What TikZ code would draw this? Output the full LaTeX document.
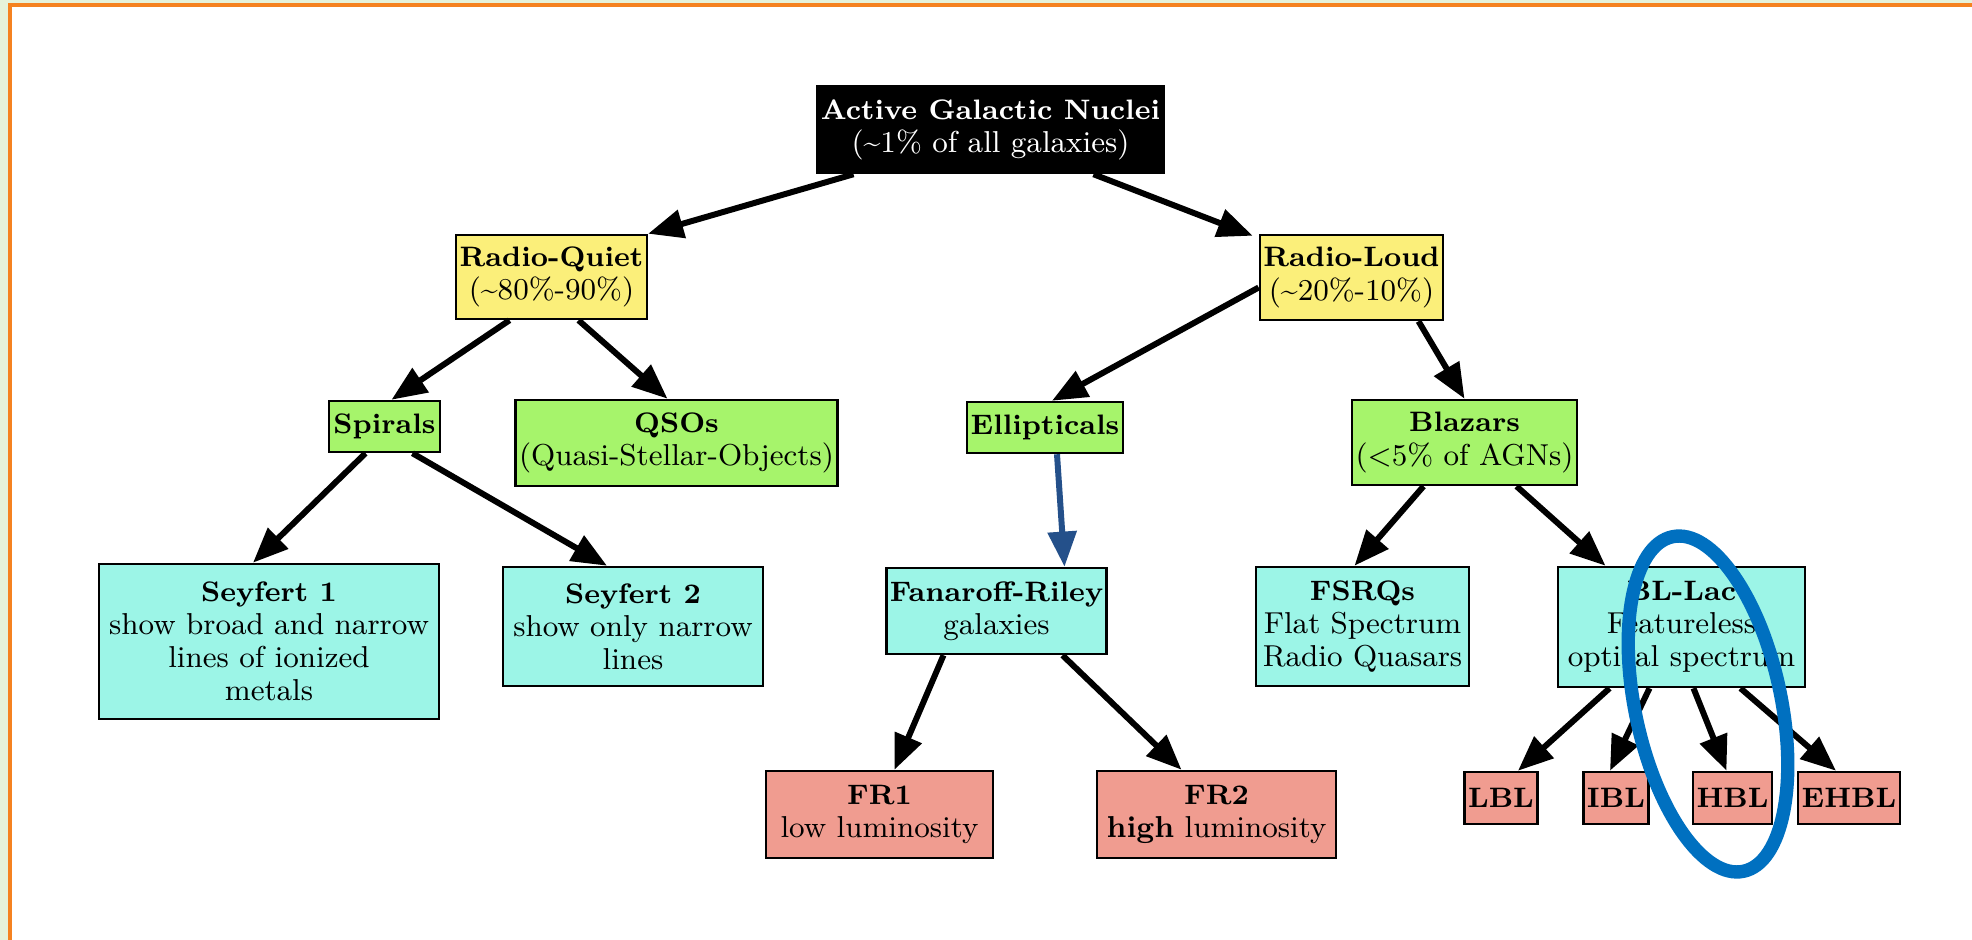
\documentclass[tikz,border=0pt]{standalone}
\usepackage{tikz}
\usetikzlibrary{arrows.meta,positioning,calc}
\definecolor{agnYellow}{HTML}{FBEF7A}
\definecolor{agnGreen}{HTML}{A6F46B}
\definecolor{agnCyan}{HTML}{9CF5E7}
\definecolor{agnSalmon}{HTML}{F09C90}
\definecolor{agnNavy}{HTML}{24508A}
\definecolor{agnRing}{HTML}{0070C0}
\definecolor{agnFrame}{HTML}{F58220}
\definecolor{agnMint}{HTML}{E6F2DA}
\newcommand{\agnhead}[1]{{\fontsize{8}{9.4}\selectfont\bfseries #1}}

\begin{document}
\begin{tikzpicture}[x=0.01cm,y=-0.01cm,font=\fontsize{8.6}{9.4}\selectfont,
    box/.style={draw=black,line width=0.7pt,align=center,inner sep=1pt},
    arr/.style={line width=1.7pt,-{Triangle[length=10pt,width=8pt]}}]
  \useasboundingbox (0,0) rectangle (1972,940);
  % frame
  \fill[agnMint] (0,0) rectangle (1972,940);
  \fill[white] (10,5) rectangle (1990,960);
  \draw[agnFrame,line width=0.9pt] (10,960) -- (10,5) -- (1990,5);

  \node[box,fill=black,text=white,minimum width=3.25cm,minimum height=0.87cm] (agn) at (990.5,129.5)
    {\agnhead{Active Galactic Nuclei}\\(\textasciitilde1\% of all galaxies)};
  \node[box,fill=agnYellow,minimum width=1.87cm,minimum height=0.84cm] (quiet) at (551.5,277)
    {\agnhead{Radio-Quiet}\\(\textasciitilde80\%-90\%)};
  \node[box,fill=agnYellow,minimum width=1.81cm,minimum height=0.85cm] (loud) at (1351.5,277.5)
    {\agnhead{Radio-Loud}\\(\textasciitilde20\%-10\%)};

  \node[box,fill=agnGreen,minimum width=1.11cm,minimum height=0.51cm] (spirals) at (384.5,426.5)
    {\agnhead{Spirals}};
  \node[box,fill=agnGreen,minimum width=3.19cm,minimum height=0.86cm] (qso) at (676.5,443)
    {\agnhead{QSOs}\\(Quasi-Stellar-Objects)};
  \node[box,fill=agnGreen,minimum width=1.54cm,minimum height=0.51cm] (ellip) at (1045,427.5)
    {\agnhead{Ellipticals}};
  \node[box,fill=agnGreen,minimum width=2.21cm,minimum height=0.85cm] (blazars) at (1464.5,442.5)
    {\agnhead{Blazars}\\(<5\% of AGNs)};

  \node[box,fill=agnCyan,minimum width=3.40cm,minimum height=1.55cm] (sey1) at (269,641.5)
    {\agnhead{Seyfert 1}\\show broad and narrow\\lines of ionized\\metals};
  \node[box,fill=agnCyan,minimum width=2.60cm,minimum height=1.19cm] (sey2) at (633,626.5)
    {\agnhead{Seyfert 2}\\show only narrow\\lines};
  \node[box,fill=agnCyan,minimum width=2.17cm,minimum height=0.86cm] (fr) at (996.5,611)
    {\agnhead{Fanaroff-Riley}\\galaxies};
  \node[box,fill=agnCyan,minimum width=2.13cm,minimum height=1.19cm] (fsrq) at (1362.5,626.5)
    {\agnhead{FSRQs}\\Flat Spectrum\\Radio Quasars};
  \node[box,fill=agnCyan,minimum width=2.47cm,minimum height=1.20cm] (bllac) at (1681.5,627)
    {\agnhead{BL-Lac}\\Featureless\\optical spectrum};

  \node[box,fill=agnSalmon,minimum width=2.27cm,minimum height=0.87cm] (fr1) at (879.5,814.5)
    {\agnhead{FR1}\\low luminosity};
  \node[box,fill=agnSalmon,minimum width=2.39cm,minimum height=0.87cm] (fr2) at (1216.5,814.5)
    {\agnhead{FR2}\\\textbf{high} luminosity};
  \node[box,fill=agnSalmon,minimum width=0.70cm,minimum height=0.52cm] (lbl) at (1501,798) {\agnhead{LBL}};
  \node[box,fill=agnSalmon,minimum width=0.64cm,minimum height=0.52cm] (ibl) at (1616,798) {\agnhead{IBL}};
  \node[box,fill=agnSalmon,minimum width=0.77cm,minimum height=0.52cm] (hbl) at (1732.5,798) {\agnhead{HBL}};
  \node[box,fill=agnSalmon,minimum width=0.96cm,minimum height=0.52cm] (ehbl) at (1849,798) {\agnhead{EHBL}};

  % connectors
  \draw[arr] ($(agn.south)+(-137,0)$) -- (quiet.north east);
  \draw[arr] ($(agn.south)+(103,0)$) -- ($(loud.north west)+(-6,2)$);
  \draw[arr] ($(quiet.south)+(-42,0)$) -- ($(spirals.north)+(7,0)$);
  \draw[arr] ($(quiet.south)+(27,0)$) -- ($(qso.north)+(-9,0)$);
  \draw[arr] ($(loud.west)+(0,10)$) -- ($(ellip.north)+(7,0)$);
  \draw[arr] ($(loud.south)+(67,0)$) -- (blazars.north);
  \draw[arr] ($(spirals.south)+(-19,0)$) -- ($(sey1.north)+(-16,0)$);
  \draw[arr] ($(spirals.south)+(28,0)$) -- ($(sey2.north)+(-26,0)$);
  \draw[arr,agnNavy] ($(ellip.south)+(12,0)$) -- ($(fr.north)+(68,0)$);
  \draw[arr] ($(blazars.south)+(-41,0)$) -- ($(fsrq.north)+(-8,0)$);
  \draw[arr] ($(blazars.south)+(52,0)$) -- ($(bllac.north)+(-76,0)$);
  \draw[arr] ($(fr.south)+(-53,0)$) -- ($(fr1.north)+(15,0)$);
  \draw[arr] ($(fr.south)+(66,0)$) -- ($(fr2.north)+(-35,0)$);
  \draw[arr] ($(bllac.south)+(-72,0)$) -- ($(lbl.north)+(17,0)$);
  \draw[arr] ($(bllac.south)+(-32,0)$) -- ($(ibl.north)+(-6,0)$);
  \draw[arr] ($(bllac.south)+(12,0)$) -- ($(hbl.north)+(-6,0)$);
  \draw[arr] ($(bllac.south)+(59,0)$) -- ($(ehbl.north)+(-13,0)$);

  % highlight ring
  \draw[agnRing,line width=3.8pt,rotate around={12:(1708,704)}] (1708,704) ellipse [x radius=73,y radius=171];
\end{tikzpicture}
\end{document}
